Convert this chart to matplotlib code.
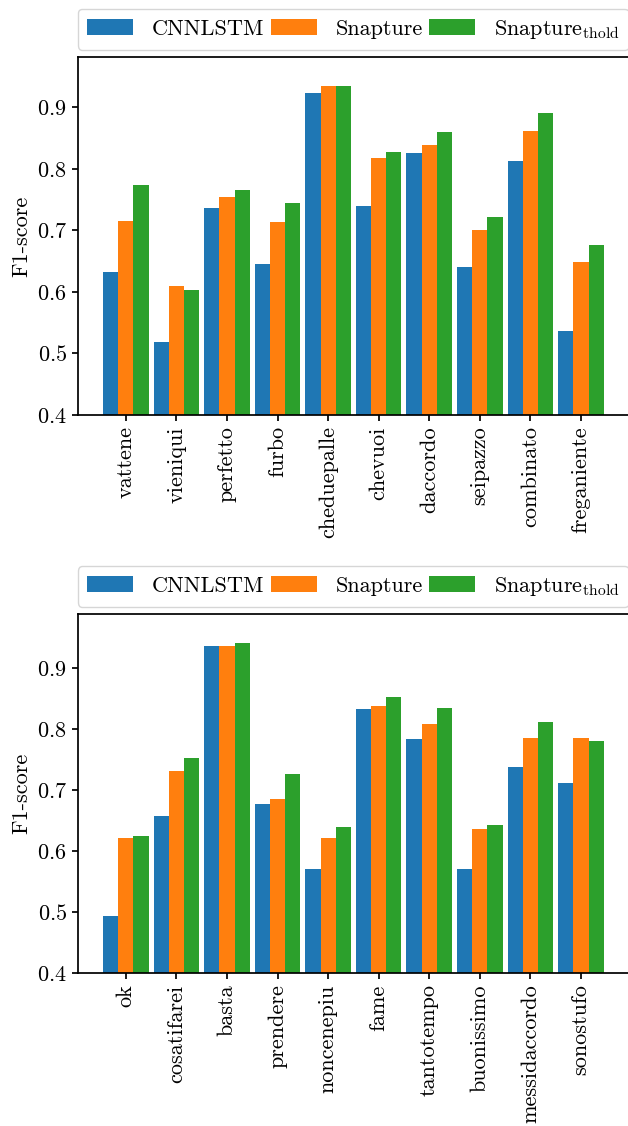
import matplotlib
matplotlib.use("Agg")
import matplotlib.pyplot as plt
import numpy as np

plt.rcParams['font.family'] = ['cmr10', 'DejaVu Serif']
plt.rcParams['mathtext.fontset'] = 'cm'
plt.rcParams['axes.formatter.use_mathtext'] = True
plt.rcParams['font.size'] = 16
plt.rcParams['axes.linewidth'] = 1.25

series_names = ["CNNLSTM", "Snapture", r"Snapture$_{\mathrm{thold}}$"]
colors = ["#1f77b4", "#ff7f0e", "#2ca02c"]

words_top = ["vattene", "vieniqui", "perfetto", "furbo", "cheduepalle",
             "chevuoi", "daccordo", "seipazzo", "combinato", "freganiente"]
cnnlstm_top = [0.632, 0.518, 0.736, 0.645, 0.924, 0.740, 0.826, 0.640, 0.812, 0.537]
snapture_top = [0.716, 0.609, 0.755, 0.714, 0.935, 0.817, 0.839, 0.701, 0.862, 0.648]
thold_top = [0.774, 0.603, 0.765, 0.744, 0.935, 0.828, 0.860, 0.721, 0.890, 0.676]

words_bot = ["ok", "cosatifarei", "basta", "prendere", "noncenepiu",
             "fame", "tantotempo", "buonissimo", "messidaccordo", "sonostufo"]
cnnlstm_bot = [0.494, 0.657, 0.936, 0.678, 0.571, 0.832, 0.783, 0.570, 0.737, 0.711]
snapture_bot = [0.622, 0.732, 0.936, 0.686, 0.621, 0.837, 0.808, 0.637, 0.785, 0.785]
thold_bot = [0.624, 0.752, 0.941, 0.727, 0.640, 0.853, 0.834, 0.642, 0.811, 0.780]

fig = plt.figure(figsize=(6.28, 11.26), dpi=100)
ax1 = fig.add_axes([0.1242, 0.6314, 0.877, 0.318])
ax2 = fig.add_axes([0.1242, 0.1356, 0.877, 0.319])

width = 0.3
for ax, words, vals in [(ax1, words_top, [cnnlstm_top, snapture_top, thold_top]),
                        (ax2, words_bot, [cnnlstm_bot, snapture_bot, thold_bot])]:
    x = np.arange(len(words))
    for i, (v, name, c) in enumerate(zip(vals, series_names, colors)):
        ax.bar(x + (i - 1) * width, v, width, color=c, label=name)
    ax.set_xticks(x)
    ax.set_xticklabels(words, rotation=90)
    ax.set_ylim(bottom=0.4)
    ax.set_ylabel("F1-score")
    ax.tick_params(length=4.5, width=1.25)
    ax.legend(loc='lower left', bbox_to_anchor=(0, 1.02, 1, 0.1), ncol=3,
              mode='expand', borderaxespad=0, handlelength=2.07,
              handletextpad=0.85, columnspacing=0.3, fontsize=16)

fig.savefig("out.png", dpi=100)
